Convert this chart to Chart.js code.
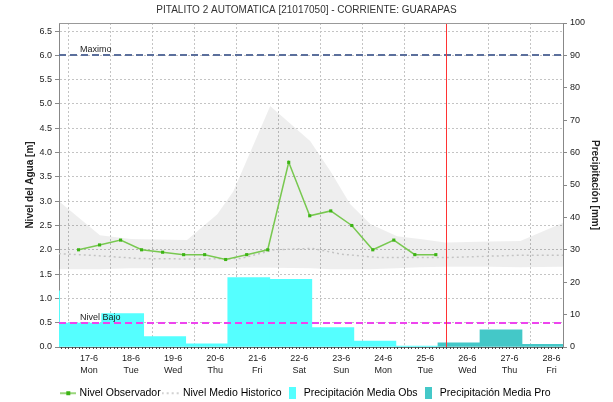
<!DOCTYPE html>
<html>
<head>
<meta charset="utf-8">
<script src="https://cdn.jsdelivr.net/npm/chart.js@4/dist/chart.umd.min.js"></script>
<style>
  html, body { margin: 0; padding: 0; background: #fff; }
  #wrap { width: 613px; height: 402px; }
</style>
</head>
<body>
<div id="wrap"><canvas id="chart" width="613" height="402"></canvas></div>
<script>
// days are counted from 17-6 (0 = 17-6, 1 = 18-6, ...)
var dayLabels = ['17-6', '18-6', '19-6', '20-6', '21-6', '22-6', '23-6', '24-6', '25-6', '26-6', '27-6', '28-6'];
var weekDays = ['Mon', 'Tue', 'Wed', 'Thu', 'Fri', 'Sat', 'Sun', 'Mon', 'Tue', 'Wed', 'Thu', 'Fri'];

// observed level [m]
var obsTimes = [-0.25, 0.25, 0.75, 1.25, 1.75, 2.25, 2.75, 3.25, 3.75, 4.25, 4.75, 5.25, 5.75, 6.25, 6.75, 7.25, 7.75, 8.25];
var obsLevel = [2.0, 2.1, 2.2, 2.0, 1.95, 1.9, 1.9, 1.8, 1.9, 2.0, 3.8, 2.7, 2.8, 2.5, 2.0, 2.2, 1.9, 1.9];

// historic mean level [m]
var histTimes = [-0.72, 0.0, 1.2, 2.5, 3.6, 4.4, 5.3, 6.0, 6.9, 8.5, 10.3, 11.28];
var histLevel = [1.92, 1.89, 1.82, 1.81, 1.82, 2.0, 2.03, 1.91, 1.84, 1.84, 1.89, 1.89];

// historic range (min / max) [m]
var bandTimes = [-0.72, 0.26, 1.0, 2.33, 3.05, 3.43, 4.31, 5.26, 5.74, 6.21, 6.69, 7.33, 7.88, 8.48, 9.5, 10.26, 11.28];
var bandHigh = [3.0, 2.3, 2.22, 2.2, 2.73, 3.2, 4.96, 4.24, 3.62, 2.94, 2.53, 2.28, 2.22, 2.15, 2.17, 2.18, 2.56];
var bandLow = [1.6, 1.6, 1.62, 1.62, 1.62, 1.63, 1.63, 1.62, 1.6, 1.6, 1.6, 1.62, 1.64, 1.65, 1.65, 1.64, 1.65];

// daily precipitation [mm], observed and forecast
var precipObsTimes = [-1.2, -0.2, 0.8, 1.8, 2.8, 3.8, 4.8, 5.8, 6.8, 7.8];
var precipObs = [17.3, 7.4, 10.3, 3.2, 1.0, 21.4, 20.9, 6.0, 1.85, 0.3];
var precipProTimes = [8.8, 9.8, 10.8];
var precipPro = [1.3, 5.3, 0.8];

var levelMax = 6.0;
var levelLow = 0.5;
var nowMark = 8.5;

var xMin = -0.715, xMax = 11.275;

function toPoints(xs, ys)
{
    return xs.map(function(x, i) { return {x: x, y: ys[i]}; });
}

// small canvases used as legend symbols
function legendIcon(kind)
{
    var c = document.createElement('canvas');
    var ctx = c.getContext('2d');
    if (kind == 'obs') {
        c.width = 16; c.height = 6;
        ctx.strokeStyle = 'rgb(120,200,80)';
        ctx.lineWidth = 1.5;
        ctx.beginPath(); ctx.moveTo(0, 3); ctx.lineTo(16, 3); ctx.stroke();
        ctx.fillStyle = 'rgb(60,180,20)';
        ctx.fillRect(6, 1, 4, 4);
    } else if (kind == 'hist') {
        c.width = 20; c.height = 4;
        ctx.strokeStyle = '#c4c4c4';
        ctx.lineWidth = 1.5;
        ctx.setLineDash([2, 3]);
        ctx.beginPath(); ctx.moveTo(0, 2); ctx.lineTo(20, 2); ctx.stroke();
    } else {
        c.width = 7; c.height = 12;
        ctx.fillStyle = kind;
        ctx.fillRect(0, 0, 7, 12);
    }
    return c;
}

var markers = {
    id: 'markers',
    afterDatasetsDraw: function(chart) {
        var ctx = chart.ctx, area = chart.chartArea;
        var y = chart.scales.y, x = chart.scales.x;
        ctx.save();
        // threshold lines
        [[levelMax, '#5b6f9c', 'Maximo'], [levelLow, '#ee44ee', 'Nivel Bajo']].forEach(function(t) {
            var py = Math.round(y.getPixelForValue(t[0]));
            ctx.strokeStyle = t[1];
            ctx.lineWidth = 2;
            ctx.setLineDash([7, 4]);
            ctx.beginPath(); ctx.moveTo(area.left, py); ctx.lineTo(area.right, py); ctx.stroke();
            ctx.setLineDash([]);
            ctx.fillStyle = '#222';
            ctx.font = '9px "Liberation Sans", Arial, sans-serif';
            ctx.textBaseline = 'bottom';
            ctx.fillText(t[2], area.left + 21, py - 1);
        });
        // current time
        var px = Math.round(x.getPixelForValue(nowMark)) + 0.5;
        ctx.strokeStyle = '#ff3333';
        ctx.lineWidth = 1;
        ctx.beginPath(); ctx.moveTo(px, area.top); ctx.lineTo(px, area.bottom); ctx.stroke();
        // frame top
        ctx.strokeStyle = '#999';
        ctx.beginPath(); ctx.moveTo(area.left, area.top + 0.5); ctx.lineTo(area.right, area.top + 0.5); ctx.stroke();
        // hourly minor ticks under the time axis
        ctx.strokeStyle = '#444';
        ctx.beginPath();
        for (var h = Math.ceil(xMin * 24); h <= xMax * 24; h++) {
            var hx = Math.round(x.getPixelForValue(h / 24)) + 0.5;
            if (h % 2 == 0) {
                ctx.moveTo(hx, area.bottom);
                ctx.lineTo(hx, area.bottom + 2);
            }
        }
        ctx.stroke();
        ctx.restore();
    }
};

var font = '"Liberation Sans", Arial, sans-serif';
Chart.defaults.font.family = font;
Chart.defaults.color = '#333';

var legendItems = [
    {text: 'Nivel Observador', icon: legendIcon('obs')},
    {text: 'Nivel Medio Historico', icon: legendIcon('hist')},
    {text: 'Precipitación Media Obs', icon: legendIcon('#55ffff')},
    {text: 'Precipitación Media Pro', icon: legendIcon('#44c8c8')}
];

new Chart(document.getElementById('chart'), {
    type: 'line',
    data: {
        datasets: [
            {
                label: 'Nivel Observador',
                data: toPoints(obsTimes, obsLevel),
                borderColor: 'rgb(120,200,80)',
                borderWidth: 1.5,
                pointStyle: 'rect',
                pointRadius: 2.2,
                pointBorderWidth: 0,
                pointBackgroundColor: 'rgb(60,180,20)',
                yAxisID: 'y',
                order: 1
            },
            {
                label: 'Nivel Medio Historico',
                data: toPoints(histTimes, histLevel),
                borderColor: '#c4c4c4',
                borderWidth: 1.5,
                borderDash: [2, 3],
                pointRadius: 0,
                yAxisID: 'y',
                order: 2
            },
            {
                label: 'max',
                data: toPoints(bandTimes, bandHigh),
                borderWidth: 0,
                pointRadius: 0,
                backgroundColor: 'rgba(0,0,0,0.065)',
                fill: '+1',
                yAxisID: 'y',
                order: 4
            },
            {
                label: 'min',
                data: toPoints(bandTimes, bandLow),
                borderWidth: 0,
                pointRadius: 0,
                fill: false,
                yAxisID: 'y',
                order: 4
            },
            {
                type: 'bar',
                label: 'Precipitación Media Obs',
                data: toPoints(precipObsTimes, precipObs),
                backgroundColor: '#55ffff',
                borderWidth: 0,
                grouped: false,
                barPercentage: 1,
                categoryPercentage: 1,
                yAxisID: 'y1',
                order: 5
            },
            {
                type: 'bar',
                label: 'Precipitación Media Pro',
                data: toPoints(precipProTimes, precipPro),
                backgroundColor: '#44c8c8',
                borderWidth: 0,
                grouped: false,
                barPercentage: 1,
                categoryPercentage: 1,
                yAxisID: 'y1',
                order: 5
            }
        ]
    },
    options: {
        responsive: false,
        animation: false,
        layout: { padding: { left: 0, right: 0, top: 0, bottom: -6.5 } },
        plugins: {
            title: {
                display: true,
                text: 'PITALITO 2 AUTOMATICA [21017050] - CORRIENTE: GUARAPAS',
                color: '#333',
                font: { size: 10, weight: 'normal' },
                padding: { top: 4, bottom: 7 }
            },
            legend: {
                position: 'bottom',
                labels: {
                    usePointStyle: true,
                    pointStyleWidth: 12,
                    padding: 5,
                    color: '#222',
                    font: { size: 10.5 },
                    generateLabels: function(chart) {
                        return legendItems.map(function(it, i) {
                            return { text: it.text, pointStyle: it.icon, fillStyle: 'transparent',
                                     strokeStyle: 'transparent', lineWidth: 0, hidden: false, datasetIndex: i };
                        });
                    }
                }
            },
            tooltip: { enabled: false }
        },
        scales: {
            x: {
                type: 'linear',
                min: xMin,
                max: xMax,
                offset: false,
                afterBuildTicks: function(scale) {
                    scale.ticks = dayLabels.map(function(d, i) { return {value: i}; });
                },
                afterFit: function(scale) { scale.height = 36; },
                ticks: {
                    autoSkip: false,
                    maxRotation: 0,
                    padding: 5,
                    color: '#222',
                    font: { size: 9, lineHeight: 1.35 },
                    callback: function(value, index) { return [dayLabels[index], weekDays[index]]; }
                },
                grid: { color: '#c4c4c4', drawTicks: false },
                border: { color: '#666', width: 1, dash: [2, 2] }
            },
            y: {
                position: 'left',
                min: 0,
                max: levelMax / 0.9,
                afterFit: function(scale) { scale.width = 59; },
                ticks: {
                    stepSize: 0.5,
                    includeBounds: false,
                    padding: 3,
                    color: '#222',
                    font: { size: 9 },
                    callback: function(v) { return v.toFixed(1); }
                },
                grid: { color: '#c4c4c4', tickColor: '#888', tickLength: 4, tickBorderDash: [] },
                border: { color: '#888', dash: [2, 2] },
                title: {
                    display: true,
                    text: 'Nivel del Agua [m]',
                    color: '#222',
                    font: { size: 10, weight: 'bold' },
                    padding: { top: 24, bottom: 0 }
                }
            },
            y1: {
                position: 'right',
                min: 0,
                max: 100,
                afterFit: function(scale) { scale.width = 50; },
                ticks: { stepSize: 10, padding: 3, color: '#222', font: { size: 9 } },
                grid: { drawOnChartArea: false, tickColor: '#888', tickLength: 4 },
                border: { color: '#888' },
                title: {
                    display: true,
                    text: 'Precipitación [mm]',
                    color: '#222',
                    font: { size: 10, weight: 'bold' },
                    padding: { top: 12, bottom: 0 }
                }
            }
        }
    },
    plugins: [markers]
});
</script>
</body>
</html>
